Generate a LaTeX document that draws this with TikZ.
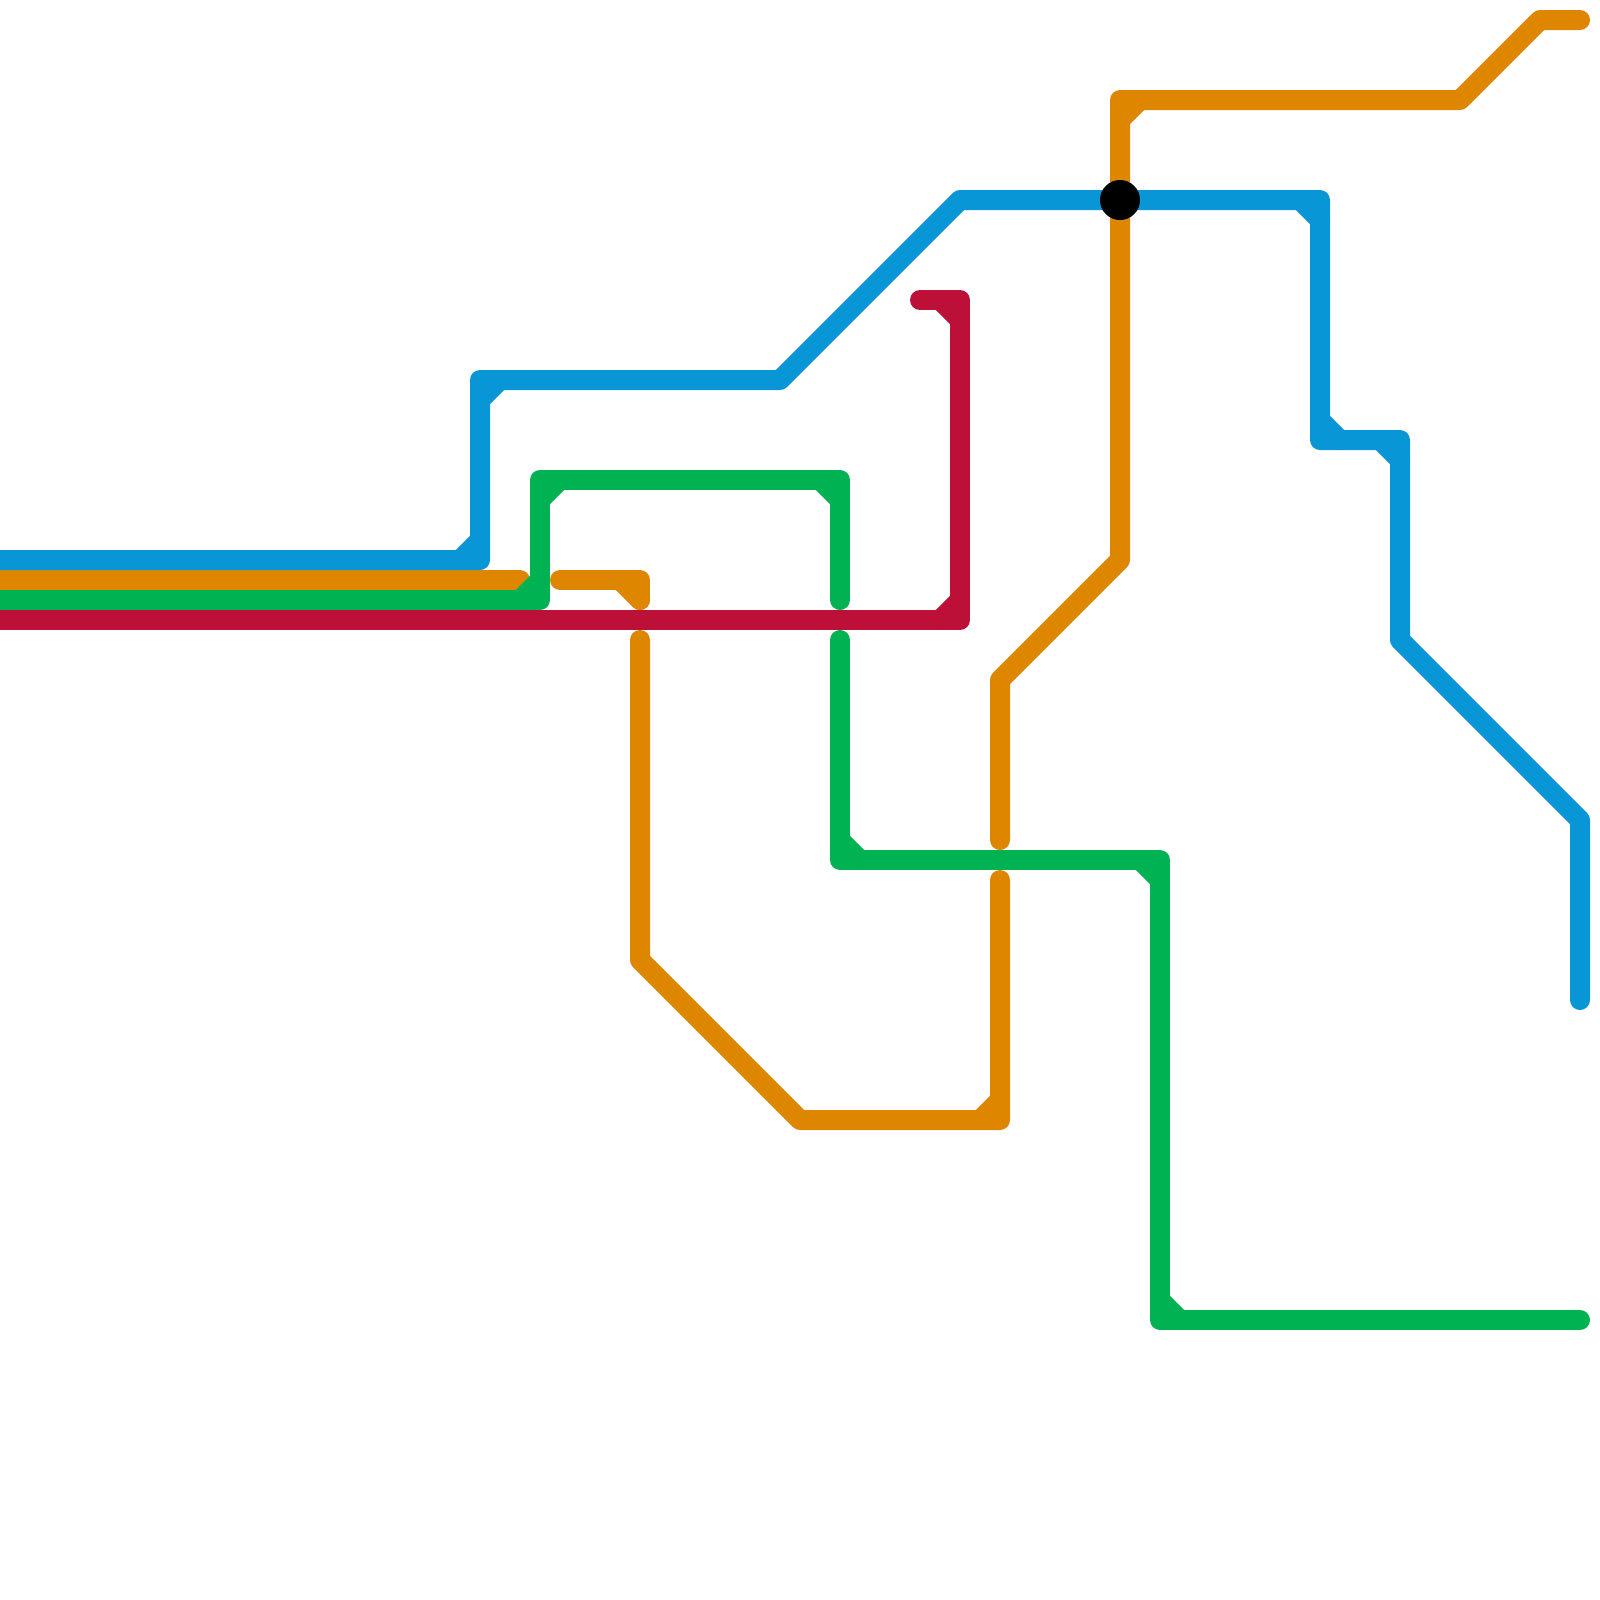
\documentclass[tikz,border=0pt]{standalone}
\definecolor{lineblue}{HTML}{0896D7}
\definecolor{lineorange}{HTML}{DF8600}
\definecolor{linegreen}{HTML}{00B251}
\definecolor{linered}{HTML}{BD1038}
\tikzset{
  track/.style={line width=.2cm,line cap=round,line join=round},
  bluetrack/.style={track,draw=lineblue},
  orangetrack/.style={track,draw=lineorange},
  greentrack/.style={track,draw=linegreen},
  redtrack/.style={track,draw=linered},
  station/.style={circle,fill=black,inner sep=0pt,minimum size=.4cm}
}
\begin{document}
\begin{tikzpicture}[x=.2cm,y=-.2cm]
\useasboundingbox (0,0) rectangle (80,80);
\draw[orangetrack](-1,29)--(26,29);
\draw[orangetrack](28,29)--(32,29)--(32,30);
\draw[orangetrack](31,29)--(32,30);
\draw[orangetrack](32,32)--(32,48)--(40,56)--(50,56)--(50,44);
\draw[orangetrack](49,56)--(50,55);
\draw[orangetrack](50,42)--(50,34)--(56,28)--(56,5)--(73,5)--(77,1)--(79,1);
\draw[orangetrack](56,6)--(57,5);
\draw[bluetrack](-1,28)--(24,28)--(24,19)--(39,19)--(48,10)--(66,10)--(66,22)--(70,22)--(70,32)--(79,41)--(79,50);
\draw[bluetrack](23,28)--(24,27);
\draw[bluetrack](24,20)--(25,19);
\draw[bluetrack](65,10)--(66,11);
\draw[bluetrack](66,21)--(67,22);
\draw[bluetrack](69,22)--(70,23);
\draw[greentrack](-1,30)--(27,30)--(27,24)--(42,24)--(42,30);
\draw[greentrack](26,30)--(27,29);
\draw[greentrack](27,25)--(28,24);
\draw[greentrack](41,24)--(42,25);
\draw[greentrack](42,32)--(42,43)--(58,43)--(58,66)--(79,66);
\draw[greentrack](42,42)--(43,43);
\draw[greentrack](57,43)--(58,44);
\draw[greentrack](58,65)--(59,66);
\draw[redtrack](-1,31)--(48,31)--(48,15)--(46,15);
\draw[redtrack](47,31)--(48,30);
\draw[redtrack](47,15)--(48,16);
\node[station] (interchange) at (56,10) {};
\end{tikzpicture}
\end{document}
